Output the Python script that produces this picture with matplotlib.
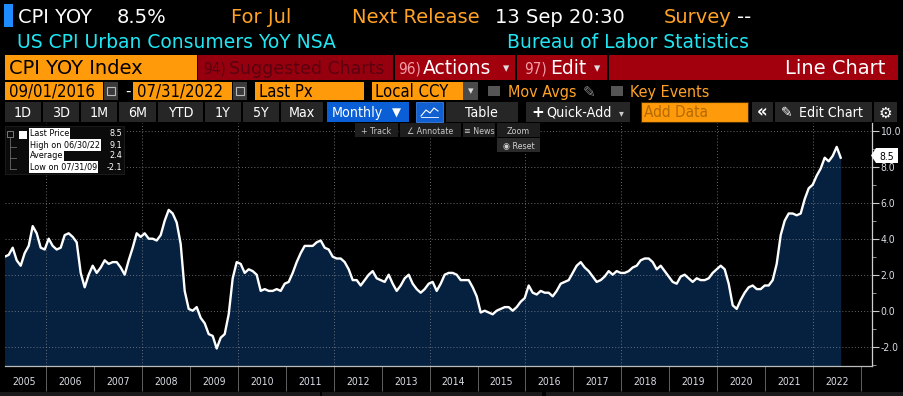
import matplotlib
matplotlib.use("Agg")
import matplotlib.pyplot as plt
from matplotlib.patches import Rectangle, Polygon
import numpy as np
import logging
logging.getLogger('matplotlib.font_manager').setLevel(logging.ERROR)

plt.rcParams['font.family'] = ['DejaVu Sans']
COND = dict(fontstretch='condensed')

# ---------------- data ----------------
years = list(range(2005, 2023))
cpi_yoy = [
    3.0, 3.0, 3.1, 3.5, 2.8, 2.5, 3.2, 3.6, 4.7, 4.3, 3.5, 3.4,      # 2005
    4.0, 3.6, 3.4, 3.5, 4.2, 4.3, 4.1, 3.8, 2.1, 1.3, 2.0, 2.5,      # 2006
    2.1, 2.4, 2.8, 2.6, 2.7, 2.7, 2.4, 2.0, 2.8, 3.5, 4.3, 4.1,      # 2007
    4.3, 4.0, 4.0, 3.9, 4.2, 5.0, 5.6, 5.4, 4.9, 3.7, 1.1, 0.1,      # 2008
    0.0, 0.2, -0.4, -0.7, -1.3, -1.4, -2.1, -1.5, -1.3, -0.2, 1.8, 2.7,  # 2009
    2.6, 2.1, 2.3, 2.2, 2.0, 1.1, 1.2, 1.1, 1.1, 1.2, 1.1, 1.5,      # 2010
    1.6, 2.1, 2.7, 3.2, 3.6, 3.6, 3.6, 3.8, 3.9, 3.5, 3.4, 3.0,      # 2011
    2.9, 2.9, 2.7, 2.3, 1.7, 1.7, 1.4, 1.7, 2.0, 2.2, 1.8, 1.7,      # 2012
    1.6, 2.0, 1.5, 1.1, 1.4, 1.8, 2.0, 1.5, 1.2, 1.0, 1.2, 1.5,      # 2013
    1.6, 1.1, 1.5, 2.0, 2.1, 2.1, 2.0, 1.7, 1.7, 1.7, 1.3, 0.8,      # 2014
    -0.1, 0.0, -0.1, -0.2, 0.0, 0.1, 0.2, 0.2, 0.0, 0.2, 0.5, 0.7,   # 2015
    1.4, 1.0, 0.9, 1.1, 1.0, 1.0, 0.8, 1.1, 1.5, 1.6, 1.7, 2.1,      # 2016
    2.5, 2.7, 2.4, 2.2, 1.9, 1.6, 1.7, 1.9, 2.2, 2.0, 2.2, 2.1,      # 2017
    2.1, 2.2, 2.4, 2.5, 2.8, 2.9, 2.9, 2.7, 2.3, 2.5, 2.2, 1.9,      # 2018
    1.6, 1.5, 1.9, 2.0, 1.8, 1.6, 1.8, 1.7, 1.7, 1.8, 2.1, 2.3,      # 2019
    2.5, 2.3, 1.5, 0.3, 0.1, 0.6, 1.0, 1.3, 1.4, 1.2, 1.2, 1.4,      # 2020
    1.4, 1.7, 2.6, 4.2, 5.0, 5.4, 5.4, 5.3, 5.4, 6.2, 6.8, 7.0,      # 2021
    7.5, 7.9, 8.5, 8.3, 8.6, 9.1, 8.5,                               # 2022
]
y_ticks = [-2.0, 0.0, 2.0, 4.0, 6.0, 8.0, 10.0]
legend_labels = ["Last Price", "High on 06/30/22", "Average", "Low on 07/31/09"]
legend_values = ["8.5", "9.1", "2.4", "-2.1"]
last_value = "8.5"

W, H = 904, 396
fig = plt.figure(figsize=(W / 100, H / 100), dpi=100, facecolor='black')

ui = fig.add_axes([0, 0, 1, 1], zorder=0)
ui.set_xlim(0, W); ui.set_ylim(H, 0); ui.axis('off')
ui.set_facecolor('black')

def rect(ax, x0, y0, x1, y1, fc, ec='none', lw=0, z=1):
    ax.add_patch(Rectangle((x0, y0), x1 - x0, y1 - y0, facecolor=fc, edgecolor=ec, linewidth=lw, zorder=z))

def txt(ax, x, y, s, color='white', size=10, ha='left', va='baseline', z=3, **kw):
    return ax.text(x, y, s, color=color, fontsize=size, ha=ha, va=va, zorder=z, **kw)

ORANGE = '#FF9A0A'
ORANGE_T = '#FFA226'
CYAN = '#20E6F4'
RED = '#A3000E'
GREY_BTN = '#262626'

# ---- row 1
rect(ui, 4, 4, 13, 27, '#1E8CFF')
txt(ui, 18, 23, 'CPI YOY', 'white', 14)
txt(ui, 117, 23, '8.5%', 'white', 14)
txt(ui, 231, 23, 'For Jul', ORANGE_T, 14)
txt(ui, 352, 23, 'Next Release', ORANGE_T, 14)
txt(ui, 495, 23, '13 Sep 20:30', 'white', 14)
txt(ui, 664, 23, 'Survey', ORANGE_T, 14)
txt(ui, 737, 23, '--', 'white', 14)
# ---- row 2
txt(ui, 17, 48, 'US CPI Urban Consumers YoY NSA', CYAN, 13.5)
txt(ui, 507, 48, 'Bureau of Labor Statistics', CYAN, 13.5)
# ---- row 3
rect(ui, 5, 55, 197, 80, ORANGE)
txt(ui, 9, 74, 'CPI YOY Index', 'black', 14)
rect(ui, 198, 55, 393, 80, '#96000E')
txt(ui, 203, 74, '94)', '#5A0010', 11, **COND)
txt(ui, 229, 74, 'Suggested Charts', '#5A0010', 12.5)
rect(ui, 395, 55, 515, 80, RED)
txt(ui, 398, 74, '96)', '#F2A0A8', 11, **COND)
txt(ui, 423, 74, 'Actions', 'white', 13.5)
txt(ui, 503, 72, '▾', '#dddddd', 9)
rect(ui, 517, 55, 607, 80, RED)
txt(ui, 524, 74, '97)', '#F2A0A8', 11, **COND)
txt(ui, 550, 74, 'Edit', 'white', 13.5)
txt(ui, 594, 72, '▾', '#dddddd', 9)
rect(ui, 609, 55, 898, 80, RED)
txt(ui, 885, 74, 'Line Chart', 'white', 14, ha='right')
# ---- row 4
rect(ui, 5, 82, 103, 100, ORANGE)
txt(ui, 9, 97, '09/01/2016', 'black', 12, **COND)
rect(ui, 104, 82, 118, 100, '#3a3a3a')
rect(ui, 107, 87, 115, 95, 'none', ec='#bbbbbb', lw=0.8)
txt(ui, 125, 96, '-', 'white', 11)
rect(ui, 133, 82, 232, 100, ORANGE)
txt(ui, 137, 97, '07/31/2022', 'black', 12, **COND)
rect(ui, 233, 82, 247, 100, '#3a3a3a')
rect(ui, 236, 87, 244, 95, 'none', ec='#bbbbbb', lw=0.8)
rect(ui, 255, 82, 364, 100, ORANGE)
txt(ui, 259, 97, 'Last Px', 'black', 12, **COND)
rect(ui, 372, 82, 463, 100, ORANGE)
txt(ui, 375, 97, 'Local CCY', 'black', 12, **COND)
rect(ui, 463, 82, 478, 100, '#4a4a4a')
txt(ui, 470.5, 94, '▾', '#dddddd', 8, ha='center')
rect(ui, 488, 86, 500, 96, '#555555')
txt(ui, 508, 97, 'Mov Avgs', ORANGE_T, 11.5, **COND)
txt(ui, 583, 97, '✎', '#888888', 11)
rect(ui, 611, 86, 623, 96, '#555555')
txt(ui, 630, 97, 'Key Events', ORANGE_T, 11.5, **COND)
# ---- row 5
btns = [(5, 41, '1D'), (43, 79, '3D'), (81, 117, '1M'), (119, 156, '6M'), (158, 203, 'YTD'),
        (205, 241, '1Y'), (243, 279, '5Y'), (281, 323, 'Max')]
for x0, x1, s in btns:
    rect(ui, x0, 102, x1, 122, GREY_BTN)
    txt(ui, (x0 + x1) / 2, 117, s, 'white', 10.2, ha='center', **COND)
rect(ui, 327, 102, 409, 122, '#0A5FD6')
txt(ui, 332, 117, 'Monthly', 'white', 10.2, **COND)
txt(ui, 392, 117, '▼', 'white', 8.5)
rect(ui, 416, 102, 443, 122, '#1160D2', ec='#3d7fe0', lw=0.6)
ui.plot([421, 426, 430, 434, 438], [116, 110, 113, 108, 111], color='white', lw=0.8, zorder=4)
ui.plot([421, 438], [117, 117], color='white', lw=0.6, zorder=4)
rect(ui, 446, 102, 518, 122, GREY_BTN)
txt(ui, 465, 117, 'Table', 'white', 10.2, **COND)
rect(ui, 526, 102, 630, 122, GREY_BTN)
txt(ui, 531, 117, '+', 'white', 11, weight='bold')
txt(ui, 546, 117, 'Quick-Add', 'white', 10.2, **COND)
txt(ui, 619, 116, '▾', '#cccccc', 7)
rect(ui, 641, 102, 748, 122, ORANGE, ec='#4a3000', lw=0.8)
txt(ui, 644, 117, 'Add Data', '#B36A00', 11, **COND)
rect(ui, 752, 102, 773, 122, GREY_BTN)
txt(ui, 762.5, 117, '«', 'white', 12, ha='center', weight='bold')
rect(ui, 775, 102, 872, 122, GREY_BTN)
txt(ui, 781, 117, '✎', 'white', 10)
txt(ui, 799, 117, 'Edit Chart', 'white', 10.2, **COND)
rect(ui, 874, 102, 897, 122, GREY_BTN)
txt(ui, 885.5, 117.5, '⚙', 'white', 11, ha='center')
# ---- bottom strip
rect(ui, 0, 392, 320, 396, '#1a1a1a')
rect(ui, 322, 392, 542, 396, '#1a1a1a')
rect(ui, 546, 392, 904, 396, '#1a1a1a')

# ---------------- chart ----------------
X0, X1, Y0, Y1 = 5, 872, 123, 366
ax = fig.add_axes([X0 / W, 1 - Y1 / H, (X1 - X0) / W, (Y1 - Y0) / H], zorder=1)
ax.set_facecolor('black')

px_per_month = 4.0
x_first = 0.7
def px_to_idx(p):
    return (p - x_first) / px_per_month

ymin = (310.7 - Y1) / 18.0
ymax = (310.7 - Y0) / 18.0
ax.set_xlim(px_to_idx(X0), px_to_idx(X1))
ax.set_ylim(ymin, ymax)

idx = np.arange(len(cpi_yoy))
vals = np.array(cpi_yoy)
ax.fill_between(idx, vals, ymin, color='#06213F', lw=0, zorder=1)
ax.plot(idx, vals, color='white', lw=1.7, zorder=3, solid_joinstyle='round')

sep_px = [46.2 + 47.93 * (y - 2006) for y in range(2006, 2024)]
sep_idx = [px_to_idx(p) for p in sep_px]
for y, s in zip(range(2006, 2024), sep_idx):
    if y % 2 == 0 and y <= 2022:
        ax.axvline(s, color='#8a8a8a', lw=0.7, ls=(0, (1, 2.2)), alpha=0.75, zorder=2)
for v in y_ticks:
    ax.axhline(v, color='#8a8a8a', lw=0.7, ls=(0, (1, 2.2)), alpha=0.75, zorder=2)

ax.set_xticks(sep_idx)
ax.set_xticklabels([''] * len(sep_idx))
ax.tick_params(axis='x', which='major', length=18, width=0.6, color='#6f6f6f', direction='out')
label_px = [24] + [(sep_px[i] + sep_px[i + 1]) / 2 for i in range(len(years) - 1)]
ax.set_xticks([px_to_idx(p) for p in label_px], minor=True)
ax.set_xticklabels([str(y) for y in years], minor=True, **COND)
ax.tick_params(axis='x', which='minor', length=0, pad=8, labelsize=7.5, labelcolor='#d8dde4')

ax.yaxis.tick_right()
ax.set_yticks(y_ticks)
ax.set_yticklabels([f'{v:.1f}' for v in y_ticks], **COND)
ax.set_yticks(np.arange(-3, 11, 1.0), minor=True)
ax.tick_params(axis='y', which='major', length=5, width=0.8, color='#cccccc', labelsize=7.5,
               labelcolor='#d8dde4', pad=1)
ax.tick_params(axis='y', which='minor', length=3, width=0.6, color='#aaaaaa')

for sp in ['top', 'left']:
    ax.spines[sp].set_visible(False)
ax.spines['right'].set_color('#cfcfcf'); ax.spines['right'].set_linewidth(0.9)
ax.spines['bottom'].set_color('#bdbdbd'); ax.spines['bottom'].set_linewidth(0.9)

# ---------------- foreground overlays ----------------
fg = fig.add_axes([0, 0, 1, 1], zorder=2)
fg.set_xlim(0, W); fg.set_ylim(H, 0); fg.axis('off')
fg.patch.set_alpha(0)

rect(fg, 5, 126, 124, 174, '#0b0b0b', ec='#1f1f1f', lw=0.6)
rect(fg, 19, 131, 27, 139, 'white')
fg.plot([10, 10], [137, 169], color='#6a6a6a', lw=0.6, zorder=2)
for yy in [147, 158, 169]:
    fg.plot([10, 16], [yy, yy], color='#6a6a6a', lw=0.6, zorder=2)
rect(fg, 7, 131, 13, 137, 'none', ec='#8a8a8a', lw=0.6)
rows_y = [138, 149, 160, 171]
for yb, lab, val in zip(rows_y, legend_labels, legend_values):
    txt(fg, 30, yb - 1.5, lab, 'black', 6.5, bbox=dict(facecolor='white', edgecolor='none', pad=0.8), **COND)
    txt(fg, 122, yb - 1.5, val, 'white', 6.5, ha='right', **COND)

tools = [(355, 398, '+ Track'), (400, 461, '∠ Annotate'), (463, 495, '≡ News'), (497, 540, 'Zoom')]
for x0, x1, s in tools:
    rect(fg, x0, 123, x1, 137, '#1e1e1e')
    txt(fg, (x0 + x1) / 2, 133.5, s, '#c8c8c8', 6.4, ha='center', **COND)
rect(fg, 497, 138, 540, 152, '#2a2a2a')
txt(fg, 518.5, 148.5, '◉ Reset', '#d0d0d0', 6.4, ha='center', **COND)

fg.add_patch(Polygon([[871, 155.5], [876, 148], [898, 148], [898, 163], [876, 163]],
                     closed=True, facecolor='white', edgecolor='none', zorder=3))
txt(fg, 879, 159.5, last_value, 'black', 7.5, z=4, **COND)

fig.savefig('out.png', dpi=100, facecolor='black')
